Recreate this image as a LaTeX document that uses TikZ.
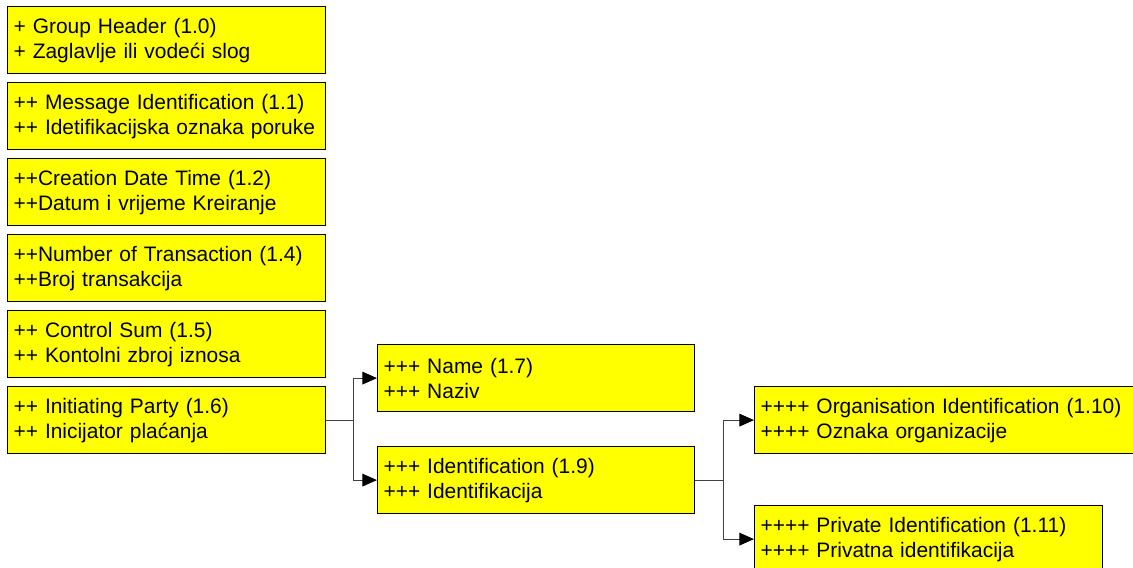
\documentclass[tikz,border=0pt]{standalone}
\usepackage{fontspec}
\setmainfont{Liberation Sans}
\usetikzlibrary{arrows.meta}
\def\pu{0.75pt}
\definecolor{boxyellow}{RGB}{255,255,0}
\tikzset{
  boxL/.style={draw=black, line width=0.9pt, fill=boxyellow, anchor=north west,
    minimum width=318*\pu, text width=306*\pu, minimum height=67*\pu,
    inner xsep=6*\pu, inner ysep=0pt, align=left,
    font=\fontsize{15.7pt}{18.75pt}\selectfont},
  link/.style={draw=black!75, line width=0.9pt},
  arr/.style={link, -{Triangle[length=11pt,width=9.5pt,color=black,fill=black]}}
}
\begin{document}
\begin{tikzpicture}[x=\pu, y=-\pu]
\useasboundingbox (0,0) rectangle (1133,568);
\clip (0,0) rectangle (1133,568);
\node[boxL] (gh) at (7,6) {+ Group Header (1.0)\\+ Zaglavlje ili vodeći slog};
\node[boxL] (mi) at (7,82) {++ Message Identification (1.1)\\++ Idetifikacijska oznaka poruke};
\node[boxL] (cd) at (7,158) {++Creation Date Time (1.2)\\++Datum i vrijeme Kreiranje};
\node[boxL] (nt) at (7,234) {++Number of Transaction (1.4)\\++Broj transakcija};
\node[boxL] (cs) at (7,310) {++ Control Sum (1.5)\\++ Kontolni zbroj iznosa};
\node[boxL] (ip) at (7,386) {++ Initiating Party (1.6)\\++ Inicijator plaćanja};
\node[boxL, minimum width=317*\pu, text width=305*\pu] (nm) at (377,344) {+++ Name (1.7)\\+++ Naziv};
\node[boxL, minimum width=317*\pu, text width=305*\pu] (id) at (377,446) {+++ Identification (1.9)\\+++ Identifikacija};
\node[boxL, minimum width=390*\pu, text width=378*\pu] (org) at (754,386) {++++ Organisation Identification (1.10)\\++++ Oznaka organizacije};
\node[boxL, minimum width=348*\pu, text width=336*\pu] (pri) at (754,505) {++++ Private Identification (1.11)\\++++ Privatna identifikacija};
\path (ip.east) ++(27,0) coordinate (b1);
\path (id.east) ++(28,0) coordinate (b2);
\draw[link] (ip.east) -- (b1);
\draw[arr] (b1) |- (nm.west);
\draw[arr] (b1) |- (id.west);
\draw[link] (id.east) -- (b2);
\draw[arr] (b2) |- (org.west);
\draw[arr] (b2) |- (pri.west);
\end{tikzpicture}
\end{document}
